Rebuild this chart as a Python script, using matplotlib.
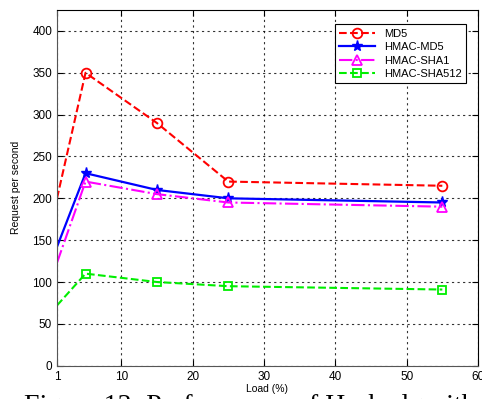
import matplotlib
matplotlib.use('Agg')
import matplotlib.pyplot as plt

# load (%) and requests per second for each hash algorithm
load = [1, 5, 15, 25, 55]
md5 = [200, 350, 290, 220, 215]
hmac_md5 = [142, 230, 210, 200, 195]
hmac_sha1 = [123, 220, 205, 195, 190]
hmac_sha512 = [72, 110, 100, 95, 91]

x_ticks = [1, 10, 20, 30, 40, 50, 60]
y_ticks = [0, 50, 100, 150, 200, 250, 300, 350, 400]

plt.rcParams['font.family'] = ['Liberation Sans', 'DejaVu Sans']

fig = plt.figure(figsize=(4.82, 3.99), dpi=100)
ax = fig.add_axes([57 / 482, 1 - 365.7 / 399, 421 / 482, (365.7 - 10) / 399])

# first point has no marker in the original
mk = [1, 2, 3, 4]
ax.plot(load, md5, color='red', ls='--', lw=1.5, marker='o', ms=7, mfc='none',
        mew=1.3, markevery=mk, label='MD5')
ax.plot(load, hmac_md5, color='blue', ls='-', lw=1.6, marker='*', ms=8,
        markevery=mk, label='HMAC-MD5')
ax.plot(load, hmac_sha1, color='magenta', ls='-.', lw=1.5, marker='^', ms=7,
        mfc='none', mew=1.3, markevery=mk, label='HMAC-SHA1')
ax.plot(load, hmac_sha512, color='#00ee00', ls='--', lw=1.5, marker='s', ms=6,
        mfc='none', mew=1.3, markevery=mk, label='HMAC-SHA512')

ax.set_xlim(1, 60)
ax.set_ylim(0, 425)
ax.set_xticks(x_ticks)
ax.set_yticks(y_ticks)
ax.tick_params(direction='in', labelsize=8.5, top=True, right=True, length=4)
ax.grid(True, color='black', ls=(0, (2, 3)), lw=0.8, alpha=0.8)
for s in ['left', 'bottom']:
    ax.spines[s].set_color('#555555')
ax.set_xlabel('Load (%)', fontsize=7.5, labelpad=1)
ax.set_ylabel('Request per second', fontsize=7.5, labelpad=8)

leg = ax.legend(loc='upper right', bbox_to_anchor=(0.985, 0.975), fontsize=8,
                fancybox=False, framealpha=1, edgecolor='black',
                handlelength=3.2, borderpad=0.4, labelspacing=0.3)
leg.get_frame().set_linewidth(0.8)

# caption below, cut off by the image edge
fig.text(0.05, 0.012, 'Figure 13: Performance of Hash algorithms',
         family='Liberation Serif', fontsize=20, va='top', ha='left')

fig.savefig('out.png', dpi=100)
